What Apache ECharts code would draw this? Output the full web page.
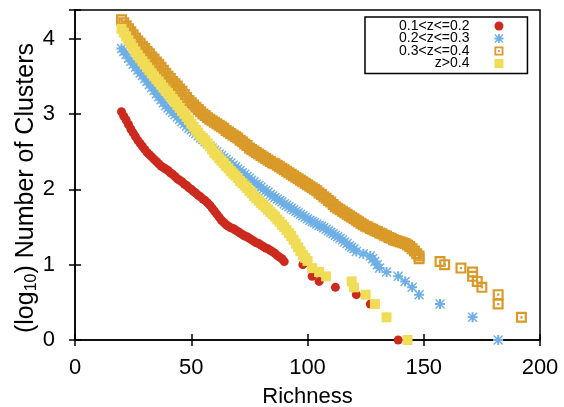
<!DOCTYPE html>
<html>
<head>
<meta charset="utf-8">
<script src="https://cdn.jsdelivr.net/npm/echarts@6/dist/echarts.min.js"></script>
<style>
  html, body { margin: 0; padding: 0; background: #fff; }
  #chart { width: 564px; height: 407px; }
</style>
</head>
<body>
<div id="chart"></div>
<script>
// Redshift bins shown in the legend
const binNames = ['0.1<z<=0.2', '0.2<z<=0.3', '0.3<z<=0.4', 'z>0.4'];

// Tick values
const xTicks = [0, 50, 100, 150, 200];
const yTicks = [0, 1, 2, 3, 4];

// [richness, log10 number of clusters]
const binA = [
  [20,3.03],[21,2.97],[22,2.92],[23,2.86],[24,2.80],[25,2.75],[26,2.70],[27,2.65],[28,2.61],[29,2.57],
  [30,2.53],[31,2.49],[32,2.46],[33,2.43],[34,2.40],[35,2.37],[36,2.34],[37,2.31],[38,2.29],[39,2.27],
  [40,2.25],[41,2.22],[42,2.20],[43,2.17],[44,2.14],[45,2.12],[46,2.10],[47,2.07],[48,2.05],[49,2.02],
  [50,2.00],[51,1.97],[52,1.95],[53,1.92],[54,1.90],[55,1.87],[56,1.85],[57,1.82],[58,1.79],[59,1.75],
  [60,1.71],[61,1.67],[62,1.63],[63,1.59],[64,1.56],[65,1.53],[66,1.51],[67,1.49],[68,1.48],[69,1.46],
  [70,1.44],[71,1.42],[72,1.40],[73,1.38],[74,1.37],[75,1.35],[76,1.33],[77,1.31],[78,1.29],[79,1.28],
  [80,1.26],[81,1.24],[82,1.22],[83,1.21],[84,1.19],[85,1.17],[86,1.15],[87,1.12],[88,1.10],
  [89,1.079],[90,1.041],[98,1.0],[102,0.845],[105,0.778],[112,0.699],[121,0.602],[127,0.477],
  [134,0.301],[139,0]
];
const binB = [
  [20,3.87],[21,3.83],[22,3.79],[23,3.74],[24,3.70],[25,3.66],[26,3.62],[27,3.58],[28,3.54],[29,3.51],
  [30,3.47],[31,3.43],[32,3.39],[33,3.35],[34,3.31],[35,3.27],[36,3.23],[37,3.19],[38,3.15],[39,3.11],
  [40,3.08],[41,3.05],[42,3.02],[43,2.99],[44,2.96],[45,2.93],[46,2.90],[47,2.87],[48,2.84],[49,2.81],
  [50,2.79],[51,2.76],[52,2.74],[53,2.71],[54,2.68],[55,2.66],[56,2.63],[57,2.60],[58,2.57],[59,2.55],
  [60,2.52],[61,2.50],[62,2.47],[63,2.45],[64,2.42],[65,2.40],[66,2.37],[67,2.35],[68,2.32],[69,2.30],
  [70,2.27],[71,2.25],[72,2.22],[73,2.20],[74,2.17],[75,2.15],[76,2.12],[77,2.10],[78,2.07],[79,2.05],
  [80,2.03],[81,2.00],[82,1.98],[83,1.96],[84,1.93],[85,1.91],[86,1.89],[87,1.87],[88,1.85],[89,1.83],
  [90,1.81],[91,1.79],[92,1.77],[93,1.75],[94,1.73],[95,1.71],[96,1.69],[97,1.67],[98,1.65],[99,1.63],
  [100,1.61],[101,1.59],[102,1.57],[103,1.56],[104,1.54],[105,1.52],[106,1.51],[107,1.49],[108,1.47],[109,1.45],
  [110,1.43],[111,1.41],[112,1.39],[113,1.37],[114,1.35],[115,1.33],[116,1.30],[117,1.28],[118,1.25],[119,1.23],
  [120,1.21],[121,1.176],[124,1.146],[127,1.114],[128,1.079],[129,1.041],[130,1.0],[131,0.954],[134,0.903],
  [139,0.845],[142,0.778],[145,0.699],[148,0.602],[157,0.477],[171,0.301],[182,0]
];
const binC = [
  [20,4.25],[21,4.21],[22,4.17],[23,4.13],[24,4.09],[25,4.05],[26,4.01],[27,3.97],[28,3.94],[29,3.90],
  [30,3.87],[31,3.83],[32,3.80],[33,3.76],[34,3.73],[35,3.69],[36,3.66],[37,3.62],[38,3.58],[39,3.54],
  [40,3.50],[41,3.47],[42,3.43],[43,3.40],[44,3.37],[45,3.33],[46,3.30],[47,3.26],[48,3.22],[49,3.18],
  [50,3.15],[51,3.12],[52,3.09],[53,3.06],[54,3.03],[55,3.00],[56,2.98],[57,2.95],[58,2.93],[59,2.91],
  [60,2.89],[61,2.87],[62,2.85],[63,2.83],[64,2.81],[65,2.78],[66,2.76],[67,2.74],[68,2.72],[69,2.70],
  [70,2.68],[71,2.65],[72,2.63],[73,2.60],[74,2.58],[75,2.55],[76,2.53],[77,2.51],[78,2.49],[79,2.47],
  [80,2.45],[81,2.43],[82,2.41],[83,2.39],[84,2.37],[85,2.35],[86,2.34],[87,2.32],[88,2.30],[89,2.28],
  [90,2.26],[91,2.24],[92,2.22],[93,2.20],[94,2.18],[95,2.16],[96,2.14],[97,2.12],[98,2.10],[99,2.08],
  [100,2.06],[101,2.04],[102,2.02],[103,2.00],[104,1.98],[105,1.95],[106,1.93],[107,1.90],[108,1.88],[109,1.85],
  [110,1.83],[111,1.80],[112,1.77],[113,1.75],[114,1.73],[115,1.71],[116,1.69],[117,1.67],[118,1.65],[119,1.63],
  [120,1.61],[121,1.59],[122,1.57],[123,1.55],[124,1.53],[125,1.51],[126,1.50],[127,1.48],[128,1.47],[129,1.45],
  [130,1.44],[131,1.42],[132,1.41],[133,1.39],[134,1.38],[135,1.36],[136,1.35],[137,1.33],[138,1.32],[139,1.31],
  [140,1.30],[141,1.29],[142,1.28],[143,1.26],[144,1.24],[145,1.21],[146,1.18],[147,1.146],[148,1.114],
  [148,1.079],[157,1.041],[159,1.0],[166,0.954],[171,0.903],[171,0.845],[173,0.778],[175,0.699],
  [182,0.602],[182,0.477],[192,0.301]
];
const binD = [
  [20,4.13],[21,4.08],[22,4.03],[23,3.98],[24,3.93],[25,3.88],[26,3.83],[27,3.78],[28,3.74],[29,3.70],
  [30,3.66],[31,3.62],[32,3.58],[33,3.54],[34,3.50],[35,3.46],[36,3.43],[37,3.39],[38,3.35],[39,3.31],
  [40,3.28],[41,3.24],[42,3.20],[43,3.16],[44,3.12],[45,3.08],[46,3.04],[47,3.00],[48,2.96],[49,2.92],
  [50,2.87],[51,2.83],[52,2.79],[53,2.75],[54,2.71],[55,2.68],[56,2.65],[57,2.61],[58,2.57],[59,2.53],
  [60,2.48],[61,2.45],[62,2.41],[63,2.38],[64,2.35],[65,2.31],[66,2.28],[67,2.24],[68,2.21],[69,2.18],
  [70,2.15],[71,2.11],[72,2.08],[73,2.05],[74,2.02],[75,1.98],[76,1.95],[77,1.91],[78,1.88],[79,1.85],
  [80,1.82],[81,1.79],[82,1.76],[83,1.73],[84,1.70],[85,1.67],[86,1.64],[87,1.60],[88,1.57],[89,1.53],
  [90,1.50],[91,1.46],[92,1.42],[93,1.38],[94,1.33],[95,1.28],[96,1.23],[97,1.18],[98,1.13],[99,1.09],
  [100,1.05],[102,0.954],[105,0.903],[108,0.845],[119,0.778],[120,0.699],[125,0.602],[129,0.477],
  [134,0.301],[143,0]
];

const colors = ['#cc2a1e', '#6eafe6', '#d99a29', '#f0dc55'];

// Marker shapes: asterisk (plus + cross) and hollow square with a centre dot
const starPath = 'path://M4,0H6V4H10V6H6V10H4V6H0V4H4Z M1,0L10,9L9,10L0,1Z M9,0L10,1L1,10L0,9Z';
const boxDotPath = 'path://M0,0H10V10H0Z M2,2V8H8V2Z M4,4H6V6H4Z';

const font = 'Liberation Sans, Arial, Helvetica, sans-serif';
const chart = echarts.init(document.getElementById('chart'), null, { renderer: 'canvas' });

function scatter(name, data, symbol, size, color) {
  return {
    name: name,
    type: 'scatter',
    data: data,
    symbol: symbol,
    symbolSize: size,
    itemStyle: { color: color, opacity: 1 },
    emphasis: { disabled: true },
    clip: false,
    animation: false
  };
}

const yLabel = v => (yTicks.indexOf(v) >= 0 ? String(v) : '');
const xLabel = v => (xTicks.indexOf(v) >= 0 ? String(v) : '');

chart.setOption({
  animation: false,
  backgroundColor: '#ffffff',
  color: colors,
  grid: {
    left: 75, right: 24, top: 10, bottom: 67,
    outerBoundsMode: 'none', containLabel: false,
    show: true, borderColor: '#000', borderWidth: 1.5, backgroundColor: 'transparent'
  },
  legend: {
    data: binNames,
    orient: 'vertical',
    left: 365, top: 17,
    align: 'right',
    padding: [2, 24, 3, 34],
    itemWidth: 9, itemHeight: 9, itemGap: -1.5,
    borderColor: '#000', borderWidth: 1.5,
    backgroundColor: '#fff',
    textStyle: { fontFamily: font, fontSize: 14, color: '#000', lineHeight: 12, padding: [0, 20, 0, 0] },
    selectedMode: false
  },
  xAxis: [{
    type: 'value', min: 0, max: 200, interval: 50,
    name: 'Richness', nameLocation: 'middle', nameGap: 46, nameMoveOverlap: false,
    nameTextStyle: { fontFamily: font, fontSize: 22, color: '#000' },
    axisLine: { show: true, lineStyle: { color: '#000', width: 1.5 } },
    axisTick: { show: true, inside: true, length: 6, lineStyle: { color: '#000', width: 1.5 } },
    axisLabel: { fontFamily: font, fontSize: 22, color: '#000', margin: 17, formatter: xLabel },
    splitLine: { show: false }
  }, {
    type: 'value', position: 'top', min: 0, max: 200, interval: 50,
    axisLine: { show: false },
    axisTick: { show: true, inside: true, length: 6, lineStyle: { color: '#000', width: 1.5 } },
    axisLabel: { show: false },
    splitLine: { show: false }
  }],
  yAxis: [{
    type: 'value', min: 0, max: 4.38, interval: 1,
    name: '(log{sub|10}) Number of Clusters', nameLocation: 'middle', nameGap: 35, nameRotate: 90,
    nameMoveOverlap: false,
    nameTextStyle: {
      fontFamily: font, fontSize: 25, color: '#000', padding: [0, 26, 0, 0],
      rich: { sub: { fontFamily: font, fontSize: 16, color: '#000', verticalAlign: 'bottom', padding: [12, 0, 0, 0] } }
    },
    axisLine: { show: true, lineStyle: { color: '#000', width: 1.5 } },
    axisTick: { show: true, inside: true, length: 6, lineStyle: { color: '#000', width: 1.5 } },
    axisLabel: { fontFamily: font, fontSize: 22, color: '#000', margin: 20, formatter: yLabel },
    splitLine: { show: false }
  }, {
    type: 'value', position: 'right', min: 0, max: 4.38, interval: 1,
    axisLine: { show: false },
    axisTick: { show: true, inside: true, length: 6, lineStyle: { color: '#000', width: 1.5 } },
    axisLabel: { show: false },
    splitLine: { show: false }
  }],
  series: [
    scatter(binNames[0], binA, 'circle', 9, colors[0]),
    scatter(binNames[1], binB, starPath, 10, colors[1]),
    scatter(binNames[2], binC, boxDotPath, 11, colors[2]),
    scatter(binNames[3], binD, 'rect', 10, colors[3])
  ]
});
</script>
</body>
</html>
